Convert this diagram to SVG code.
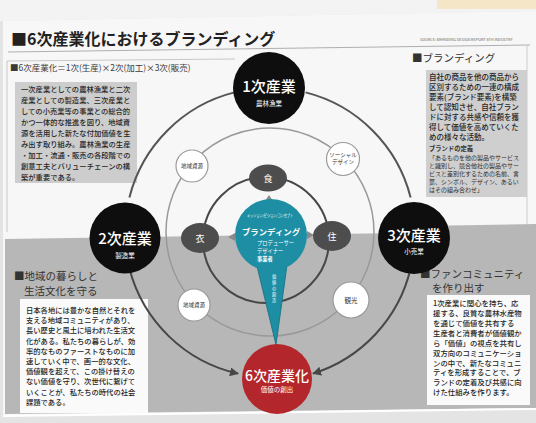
<svg xmlns="http://www.w3.org/2000/svg" width="536" height="423" viewBox="0 0 536 423">
<defs>
<style>
text{font-family:"Noto Sans CJK JP","Noto Sans",sans-serif;}
.body{font-size:7.3px;fill:#262626;font-weight:500;}
.bodyR{font-size:7.5px;fill:#262626;font-weight:500;}
.small{font-size:6px;fill:#2e2e2e;}
.head{font-size:10.5px;fill:#333;}
.big{fill:#fff;font-size:15px;font-weight:500;text-anchor:middle;}
.sub{fill:#fff;font-size:6.5px;text-anchor:middle;}
.blk{fill:#0e0e0e;}
.wc{fill:#fff;stroke:#9a9a9a;stroke-width:1.2;}
.wt{font-size:5.5px;fill:#333;text-anchor:middle;}
.el{fill:#4d4d4d;}
.et{fill:#fff;font-size:9px;text-anchor:middle;}
.arc{fill:none;stroke:#555;stroke-width:2;}
.arcA{fill:none;stroke:#474747;stroke-width:2;marker-end:url(#ah);}
.tw{fill:#fff;text-anchor:start;}
</style>
<marker id="ah" viewBox="0 0 10 10" refX="9" refY="5" markerWidth="4.5" markerHeight="4.5" orient="auto">
<path d="M0,0 L10,5 L0,10 z" fill="#474747"/>
</marker>
</defs>

<!-- surroundings -->
<rect x="0" y="0" width="536" height="423" fill="#f3f3f3"/>
<rect x="437" y="0" width="99" height="9" fill="#f4e6c6"/>
<polygon points="0,21 536,11 536,423 0,423" fill="#e4e4e4"/>
<!-- page -->
<polygon points="3,21 536,11 536,409 3,416" fill="#f7f7f7"/>
<polygon points="5,239 400,233 420,226 536,224 536,408 5,414" fill="#b7b7b7"/>
<line x1="3" y1="416" x2="536" y2="409" stroke="#ffffff" stroke-width="2"/>

<!-- title -->
<text x="11" y="45" font-size="16" font-weight="700" fill="#222">■6次産業化におけるブランディング</text>
<line x1="8" y1="52" x2="530" y2="45" stroke="#9c9c9c" stroke-width="0.8"/>
<text x="420" y="41" font-size="3.8" fill="#666">SOURCE: BRANDING DESIGN REPORT 6TH INDUSTRY</text>

<!-- left top box -->
<g id="box-6ji">
<polyline points="235,59 7,61 7,232" fill="none" stroke="#bdbdbd" stroke-width="0.8"/>
<text x="10" y="71" font-size="8.5" fill="#3a3a3a">■6次産業化＝1次(生産)×2次(加工)×3次(販売)</text>
<rect x="15" y="82" width="122" height="101" fill="#cdcdcd"/>
<text class="body">
<tspan x="21" y="92">一次産業としての農林漁業と二次</tspan>
<tspan x="21" y="103">産業としての製造業、三次産業と</tspan>
<tspan x="21" y="114">しての小売業等の事業との総合的</tspan>
<tspan x="21" y="125">かつ一体的な推進を図り、地域資</tspan>
<tspan x="21" y="136">源を活用した新たな付加価値を生</tspan>
<tspan x="21" y="147">み出す取り組み。農林漁業の生産</tspan>
<tspan x="21" y="158">・加工・流通・販売の各段階での</tspan>
<tspan x="21" y="169">創意工夫とバリューチェーンの構</tspan>
<tspan x="21" y="180">築が重要である。</tspan>
</text>
</g>

<!-- right top box -->
<g id="box-branding">
<line x1="527" y1="46" x2="527" y2="224" stroke="#c4c4c4" stroke-width="0.8"/>
<text x="412" y="62" class="head">■ブランディング</text>
<rect x="426" y="70" width="101" height="127" fill="#cfcfcf"/>
<text class="bodyR">
<tspan x="429" y="80">自社の商品を他の商品から</tspan>
<tspan x="429" y="90">区別するための一連の構成</tspan>
<tspan x="429" y="100">要素(ブランド要素)を構築</tspan>
<tspan x="429" y="110">して認知させ、自社ブラン</tspan>
<tspan x="429" y="120">ドに対する共感や信頼を獲</tspan>
<tspan x="429" y="130">得して価値を高めていくた</tspan>
<tspan x="429" y="140">めの様々な活動。</tspan>
</text>
<text x="429" y="151" font-size="6.3" font-weight="700" fill="#333">ブランドの定義</text>
<text class="small">
<tspan x="429" y="160">「あるものを他の製品やサービス</tspan>
<tspan x="429" y="168">と識別し、競合他社の製品やサー</tspan>
<tspan x="429" y="176">ビスと差別化するための名前、言</tspan>
<tspan x="429" y="184">葉、シンボル、デザイン、あるい</tspan>
<tspan x="429" y="192">はその組み合わせ」</tspan>
</text>
</g>

<!-- bottom left box -->
<g id="box-kurashi">
<text class="head"><tspan x="14" y="280">■地域の暮らしと</tspan><tspan x="24" y="295">生活文化を守る</tspan></text>
<rect x="20" y="299" width="128" height="114" fill="#fafafa"/>
<text class="body">
<tspan x="26" y="313">日本各地には豊かな自然とそれを</tspan>
<tspan x="26" y="323.2">支える地域コミュニティがあり、</tspan>
<tspan x="26" y="333.4">長い歴史と風土に培われた生活文</tspan>
<tspan x="26" y="343.6">化がある。私たちの暮らしが、効</tspan>
<tspan x="26" y="353.8">率的なものファーストなものに加</tspan>
<tspan x="26" y="364">速していく中で、画一的な文化、</tspan>
<tspan x="26" y="374.2">価値観を超えて、この掛け替えの</tspan>
<tspan x="26" y="384.4">ない価値を守り、次世代に繋げて</tspan>
<tspan x="26" y="394.6">いくことが、私たちの時代の社会</tspan>
<tspan x="26" y="404.8">課題である。</tspan>
</text>
</g>

<!-- bottom right box -->
<g id="box-fan">
<text class="head"><tspan x="420" y="278">■ファンコミュニティ</tspan><tspan x="432" y="292">を作り出す</tspan></text>
<rect x="427" y="295" width="103" height="110" fill="#fafafa"/>
<text class="bodyR" style="font-size:7.4px">
<tspan x="433" y="306">1次産業に関心を持ち、応</tspan>
<tspan x="433" y="316">援する、良質な農林水産物</tspan>
<tspan x="433" y="326">を通じて価値を共有する</tspan>
<tspan x="433" y="336">生産者と消費者が価値観か</tspan>
<tspan x="433" y="346">ら「価値」の視点を共有し</tspan>
<tspan x="433" y="356">双方向のコミュニケーショ</tspan>
<tspan x="433" y="365.5">ンの中で、新たなコミュニ</tspan>
<tspan x="433" y="375">ティを形成することで、ブ</tspan>
<tspan x="433" y="385">ランドの定着及び共感に向</tspan>
<tspan x="433" y="395">けた仕組みを作ります。</tspan>
</text>
</g>

<!-- connectors -->
<g id="connectors">
<circle cx="270" cy="232" r="104" fill="none" stroke="#999" stroke-width="1.5"/>
<circle cx="266" cy="240" r="63" fill="none" stroke="#474747" stroke-width="2"/>
<path class="arc" d="M129.4,197.4 A145,145 0 0 1 234.4,92.4"/>
<path class="arc" d="M305.6,92.4 A145,145 0 0 1 410.6,197.4"/>
<path class="arcA" d="M129.4,268.6 A145,145 0 0 0 238,373.6"/>
<path class="arcA" d="M410.6,268.6 A145,145 0 0 1 313,373.6"/>
<polygon points="228,237 235,233 235,241" fill="#8a8a8a"/>
<polygon points="314,235 307,231 307,239" fill="#8a8a8a"/>
<polygon points="269,195 265,201 273,201" fill="#8a8a8a"/>
</g>

<!-- white circles -->
<g id="n-shigen1"><circle class="wc" cx="192" cy="166" r="16"/><text class="wt" x="192" y="168">地域資源</text></g>
<g id="n-social"><circle class="wc" cx="343" cy="159" r="16.5"/><text class="wt"><tspan x="343" y="157">ソーシャル</tspan><tspan x="343" y="164">デザイン</tspan></text></g>
<g id="n-shigen2"><circle class="wc" cx="194" cy="305" r="16"/><text class="wt" x="194" y="307">地域資源</text></g>
<g id="n-kanko"><circle class="wc" cx="351" cy="300" r="18"/><text class="wt" style="font-size:6.5px" x="351" y="302.5">観光</text></g>

<!-- inner ellipses -->
<g id="n-shoku"><ellipse class="el" cx="268" cy="178" rx="19" ry="13.5"/><text class="et" x="268" y="181.5">食</text></g>
<g id="n-i"><ellipse class="el" cx="200" cy="238" rx="19" ry="15"/><text class="et" x="200" y="241.5">衣</text></g>
<g id="n-ju"><ellipse class="el" cx="332" cy="236" rx="19" ry="15"/><text class="et" x="332" y="239.5">住</text></g>

<!-- center branding -->
<g id="n-branding">
<polygon points="255,258 288,258 276,345" fill="#1d8ea3" stroke="#136f80" stroke-width="0.8"/>
<circle cx="271" cy="235" r="36" fill="#1d8ea3"/>
<text class="tw" x="247" y="217" font-size="4.2" textLength="46" lengthAdjust="spacingAndGlyphs">ミッション/ビジョン/コンセプト</text>
<text class="tw" x="242" y="235" font-size="8.4" font-weight="700">ブランディング</text>
<text class="tw" font-size="5.3"><tspan x="257" y="245">プロデューサー</tspan><tspan x="257" y="253">デザイナー</tspan><tspan x="257" y="261" font-weight="700">事業者</tspan></text>
<text class="tw" font-size="4.2"><tspan x="272" y="278">価</tspan><tspan x="272" y="284">値</tspan><tspan x="272" y="290">の</tspan><tspan x="272" y="296">創</tspan><tspan x="272" y="302">造</tspan></text>
</g>

<!-- big circles -->
<g id="n-1ji"><circle class="blk" cx="269" cy="88" r="36"/><text class="big" x="269" y="92">1次産業</text><text class="sub" x="269" y="106">農林漁業</text></g>
<g id="n-2ji"><circle class="blk" cx="125" cy="238" r="35.5"/><text class="big" x="125" y="244">2次産業</text><text class="sub" x="125" y="258">製造業</text></g>
<g id="n-3ji"><circle class="blk" cx="414" cy="238" r="36"/><text class="big" x="414" y="241">3次産業</text><text class="sub" x="414" y="254">小売業</text></g>
<g id="n-6ji"><circle cx="277" cy="379" r="35" fill="#b3262b"/><text class="big" style="font-size:14px" x="277" y="381">6次産業化</text><text class="sub" x="277" y="392">価値の創出</text></g>
</svg>
